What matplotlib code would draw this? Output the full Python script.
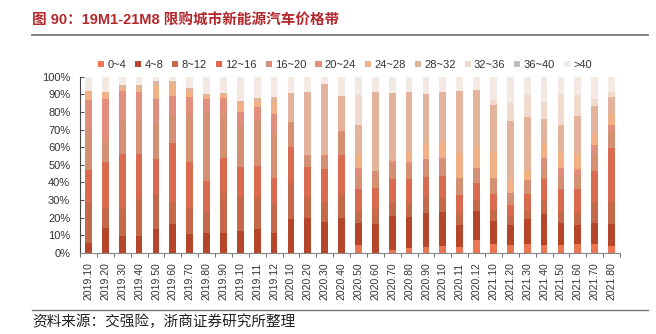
#!/usr/bin/env python3
"""100% stacked bars: NEV price-band mix in purchase-restricted cities, 2019M1-2021M8."""

import matplotlib
matplotlib.use("Agg")
import matplotlib.pyplot as plt
import numpy as np

plt.rcParams["font.family"] = ["Liberation Sans", "Noto Sans CJK SC", "DejaVu Sans"]

months = [
    "2019.10", "2019.20", "2019.30", "2019.40", "2019.50", "2019.60", "2019.70", "2019.80",
    "2019.90", "2019.10", "2019.11", "2019.12",
    "2020.10", "2020.20", "2020.30", "2020.40", "2020.50", "2020.60", "2020.70", "2020.80",
    "2020.90", "2020.10", "2020.11", "2020.12",
    "2021.10", "2021.20", "2021.30", "2021.40", "2021.50", "2021.60", "2021.70", "2021.80",
]

bands = ["0~4", "4~8", "8~12", "12~16", "16~20", "20~24", "24~28", "28~32", "32~36", "36~40", ">40"]

# share (%) of each price band, one list per band, one value per month
p_0_4 = [0, 0, 0, 0, 0, 0, 0, 0, 0, 0, 0, 0,
         0, 0, 0, 0, 4.5, 0, 1.5, 2.8, 3.4, 3.8, 3.4, 7.2,
         4.7, 4.5, 4.9, 4.5, 4.4, 4.9, 4.9, 3.8]
p_4_8 = [5.7, 13.8, 9.5, 9.5, 13.4, 16.1, 10.4, 11.0, 11.0, 12.3, 13.3, 11.4,
         19.1, 19.5, 17.4, 19.9, 12.5, 16.3, 19.3, 17.7, 19.3, 19.5, 12.3, 16.5,
         13.3, 11.0, 14.4, 17.7, 12.6, 10.6, 12.1, 12.3]
p_8_12 = [23.3, 11.8, 15.1, 20.8, 19.9, 12.9, 15.2, 12.9, 22.7, 19.5, 18.5, 16.6,
          20.3, 12.3, 11.6, 12.9, 6.5, 8.3, 8.2, 7.9, 8.7, 8.0, 7.0, 6.2,
          6.4, 4.8, 5.1, 7.0, 6.7, 7.6, 11.8, 12.7]
p_12_16 = [18.0, 25.7, 31.3, 25.6, 19.7, 33.1, 26.1, 17.0, 20.3, 17.1, 17.6, 14.2,
           20.4, 16.7, 18.5, 22.7, 12.5, 12.3, 12.7, 13.3, 11.8, 12.3, 10.1, 9.5,
           9.1, 7.0, 9.1, 12.8, 12.3, 13.3, 17.4, 30.7]
p_16_20 = [23.3, 12.1, 18.9, 20.8, 20.5, 15.6, 27.8, 38.3, 24.2, 23.6, 25.6, 26.0,
           14.3, 6.4, 8.0, 13.3, 8.9, 9.7, 8.7, 7.7, 9.1, 8.7, 9.4, 7.9,
           8.9, 6.8, 7.0, 8.6, 8.7, 7.5, 9.1, 9.1]
p_20_24 = [16.4, 23.9, 17.2, 14.8, 13.6, 11.5, 9.1, 7.9, 9.5, 7.6, 8.0, 10.4,
           0.3, 0.4, 0, 0.3, 3.4, 0, 1.9, 2.3, 0.7, 1.3, 0, 1.0,
           0, 0, 1.0, 3.2, 3.6, 3.4, 5.7, 3.7]
p_24_28 = [5.2, 3.8, 1.8, 1.3, 7.8, 6.1, 2.5, 1.9, 1.9, 5.3, 2.8, 7.2,
           0.6, 0.2, 0.9, 0, 8.0, 0, 0.7, 4.7, 9.5, 9.5, 14.2, 12.3,
           14.8, 6.4, 5.7, 8.3, 8.1, 9.0, 6.6, 6.3]
p_28_32 = [0, 0, 1.5, 2.5, 1.9, 2.2, 2.3, 1.0, 0.9, 0.8, 2.3, 2.5,
           15.9, 36.0, 39.2, 19.9, 16.4, 44.9, 37.9, 35.1, 27.7, 28.0, 35.5, 31.8,
           26.9, 34.1, 29.9, 14.0, 16.1, 21.2, 15.7, 9.8]
p_32_36 = [0, 0, 0, 0, 0, 0, 0, 0, 0, 0, 0, 0,
           0, 0, 0, 0, 17.1, 0, 0, 0, 0, 0, 0, 0,
           2.5, 10.6, 12.7, 9.5, 17.5, 12.3, 4.2, 2.9]
p_36_40 = [0, 0, 0, 0, 0.9, 0, 0, 0, 0, 0, 0, 0,
           0, 0, 0, 0, 0, 0, 0, 0, 0, 0, 0, 0,
           0, 0, 0, 0, 0, 0, 0, 0]
p_40_up = [8.1, 8.9, 4.7, 4.7, 2.3, 2.5, 6.6, 10.0, 9.5, 13.8, 11.9, 11.7,
           9.1, 8.5, 4.4, 11.0, 10.2, 8.5, 9.1, 8.5, 9.8, 8.9, 8.1, 7.6,
           13.4, 14.8, 10.2, 14.4, 10.0, 10.2, 12.5, 8.7]

shares = [p_0_4, p_4_8, p_8_12, p_12_16, p_16_20, p_20_24,
          p_24_28, p_28_32, p_32_36, p_36_40, p_40_up]
colors = ["#EE7552", "#B5462A", "#C46A4B", "#DB6B4E", "#D59073", "#E38D7D",
          "#F2B185", "#E3B39C", "#F1D9CD", "#BFBFBF", "#F5E9E4"]

W, H = 656, 334
fig = plt.figure(figsize=(W / 100, H / 100), dpi=100)
ax = fig.add_axes([80 / W, 1 - 252.7 / H, 540 / W, 176 / H])

x = np.arange(len(months))
data = np.array(shares, dtype=float)
data = data / data.sum(axis=0) * 100  # normalise each month to 100%
bottom = np.zeros(len(months))
for band, vals, col in zip(bands, data, colors):
    ax.bar(x, vals, 0.4, bottom=bottom, color=col, label=band, linewidth=0)
    bottom += vals

ax.set_xlim(-0.5, len(months) - 0.5)
ax.set_ylim(0, 100)
ax.set_yticks(np.arange(0, 101, 10))
ax.set_yticklabels([f"{v}%" for v in range(0, 101, 10)], fontsize=8, color="#333333")
ax.set_xticks(x)
ax.set_xticklabels(months, rotation=90, fontsize=7.5, color="#333333")
ax.set_xticks(np.arange(-0.5, len(months), 1), minor=True)
ax.tick_params(axis="x", which="major", length=0, pad=7)
ax.tick_params(axis="x", which="minor", length=3, direction="out", color="#555555")
ax.tick_params(axis="y", length=3, direction="in", color="#555555", pad=7)
for side in ("top", "right"):
    ax.spines[side].set_visible(False)
ax.spines["left"].set_color("#444444")
ax.spines["bottom"].set_color("#888888")

fig.legend(loc="center", bbox_to_anchor=(345 / W, 1 - 65 / H), ncol=11,
           frameon=False, fontsize=8, handlelength=0.55, handleheight=0.55,
           handletextpad=0.3, columnspacing=0.8, labelcolor="#333333")

# heading, rules and source note
fig.text(32 / W, 1 - 21 / H, "图 90：19M1-21M8 限购城市新能源汽车价格带",
         fontsize=10.5, fontweight="bold", color="#B3282D", va="center",
         family=["Liberation Sans", "Noto Sans CJK SC"])
fig.add_artist(plt.Line2D([32 / W, 648 / W], [1 - 34.5 / H] * 2,
                          color="#777777", linewidth=1.3))
fig.add_artist(plt.Line2D([32 / W, 648 / W], [1 - 310 / H] * 2,
                          color="#777777", linewidth=1.0))
fig.text(32 / W, 1 - 322 / H, "资料来源：交强险，浙商证券研究所整理",
         fontsize=10.5, color="#222222", va="center", family=["Noto Sans CJK SC"])

fig.savefig("out.png", dpi=100)
